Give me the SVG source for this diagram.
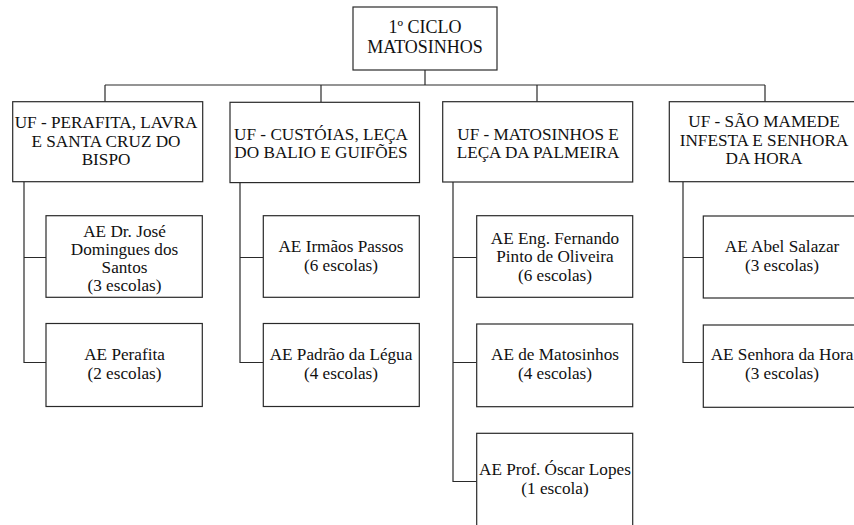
<svg xmlns="http://www.w3.org/2000/svg" width="854" height="525" viewBox="0 0 854 525" font-family="'Liberation Serif', serif">
<style>
rect{fill:#fff;stroke:#2a2a2a;stroke-width:1.2}
.c{fill:none;stroke:#2a2a2a;stroke-width:1.2}
text{font-family:'Liberation Serif','Times New Roman',serif;font-size:17.2px;fill:#111;text-anchor:middle}
.t{font-size:18px}
</style>
<rect x="0" y="0" width="854" height="525" style="stroke:none"/>
<g id="connectors">
<path class="c" d="M425 70V85M105 85H765M105 85V102M321 85V102M537 85V102M765 85V102"/>
<path class="c" d="M24 182V362.5H46M24 257.5H46"/>
<path class="c" d="M240 183V362.5H263.3M240 257.5H263.3"/>
<path class="c" d="M453 182V481.5H476.7M453 257.5H476.7M453 362.5H476.7"/>
<path class="c" d="M683 182V362.5H703.3M683 257.5H703.3"/>
</g>
<g id="root"><rect x="353" y="7" width="144" height="63"/><text class="t" x="425" y="33">1º CICLO</text><text class="t" x="425" y="53">MATOSINHOS</text></g>
<g id="uf1"><rect x="12.7" y="101.7" width="190" height="80"/><text x="106" y="128">UF - PERAFITA, LAVRA</text><text x="106" y="146.5">E SANTA CRUZ DO</text><text x="106" y="165">BISPO</text></g>
<g id="uf2"><rect x="230" y="102.3" width="189.5" height="80.3"/><text x="321" y="139.5">UF - CUSTÓIAS, LEÇA</text><text x="321" y="158">DO BALIO E GUIFÕES</text></g>
<g id="uf3"><rect x="442.7" y="101.7" width="190" height="80.3"/><text x="538" y="139.5">UF - MATOSINHOS E</text><text x="538" y="158">LEÇA DA PALMEIRA</text></g>
<g id="uf4"><rect x="669.3" y="101.7" width="190" height="80"/><text x="764" y="127">UF - SÃO MAMEDE</text><text x="764" y="145.5">INFESTA E SENHORA</text><text x="764" y="164">DA HORA</text></g>
<g id="ae1"><rect x="46" y="215.7" width="156.3" height="81.6"/><text x="124.5" y="237">AE Dr. José</text><text x="124.5" y="255">Domingues dos</text><text x="124.5" y="273">Santos</text><text x="124.5" y="291">(3 escolas)</text></g>
<g id="ae2"><rect x="46" y="323.5" width="156.3" height="83"/><text x="124.5" y="360">AE Perafita</text><text x="124.5" y="378.5">(2 escolas)</text></g>
<g id="ae3"><rect x="263.3" y="215.7" width="156" height="81.6"/><text x="341" y="252">AE Irmãos Passos</text><text x="341" y="270.5">(6 escolas)</text></g>
<g id="ae4"><rect x="263.3" y="323.5" width="156" height="83"/><text x="341" y="360">AE Padrão da Légua</text><text x="341" y="378.5">(4 escolas)</text></g>
<g id="ae5"><rect x="476.7" y="215.7" width="156" height="81.6"/><text x="555" y="243.5">AE Eng. Fernando</text><text x="555" y="262">Pinto de Oliveira</text><text x="555" y="280.5">(6 escolas)</text></g>
<g id="ae6"><rect x="476.7" y="324" width="156" height="82.7"/><text x="555" y="360">AE de Matosinhos</text><text x="555" y="378.5">(4 escolas)</text></g>
<g id="ae7"><rect x="476.7" y="433.3" width="156" height="97"/><text x="555" y="475">AE Prof. Óscar Lopes</text><text x="555" y="494">(1 escola)</text></g>
<g id="ae8"><rect x="703.3" y="216" width="156" height="82"/><text x="782" y="252">AE Abel Salazar</text><text x="782" y="270.5">(3 escolas)</text></g>
<g id="ae9"><rect x="703.3" y="325" width="156" height="82.3"/><text x="782" y="360">AE Senhora da Hora</text><text x="782" y="378.5">(3 escolas)</text></g>
</svg>
